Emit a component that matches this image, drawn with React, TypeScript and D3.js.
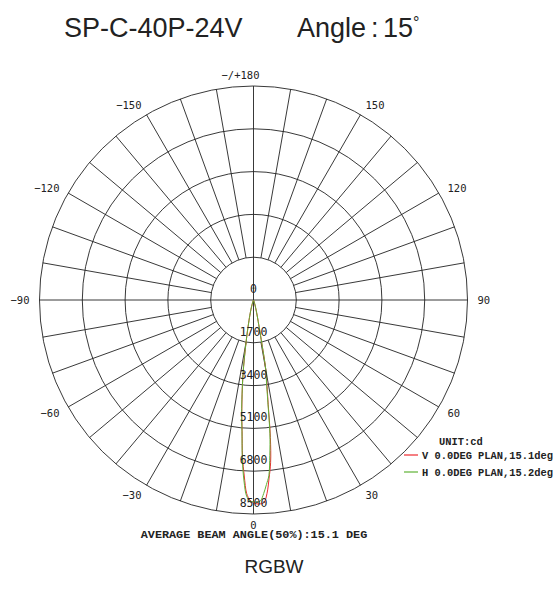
import { useEffect, useRef } from "react";
import * as d3 from "d3";

// beam angles in degrees (0 = straight down, + to the right)
const angles = [-30, -25, -20, -16, -14, -12, -10, -8, -6, -5, -4, -3, -2, -1, 0, 1, 2, 3, 4, 5, 6, 7, 8, 9, 10, 11, 12, 14, 16, 20, 25, 30];
// V plane (red), cd
const vPlane = [0, 20, 80, 280, 520, 950, 1700, 3000, 4450, 5200, 6250, 7000, 7700, 7950, 8050, 8100, 8100, 8050, 7700, 7100, 6500, 5500, 4200, 3400, 2800, 1600, 1000, 500, 250, 80, 20, 0];
// H plane (green), cd
const hPlane = [0, 20, 80, 300, 550, 900, 1700, 3000, 4500, 5250, 6350, 7200, 7800, 7980, 8020, 8030, 7980, 7700, 7350, 7000, 6200, 5350, 4100, 3300, 2800, 1600, 1000, 500, 250, 80, 20, 0];

const rings = [1700, 3400, 5100, 6800, 8500];
const ringLabels = [0, 1700, 3400, 5100, 6800, 8500];
const angleTicks = [0, 30, 60, 90, 120, 150, 180, -150, -120, -90, -60, -30];
const spokes = d3.range(-170, 190, 10);

const legend = [
  { name: "V 0.0DEG PLAN,15.1deg", color: "#ee2a2f", values: vPlane },
  { name: "H 0.0DEG PLAN,15.2deg", color: "#5fb236", values: hPlane },
];

const W = 553;
const H = 595;

export default function App() {
  const svgRef = useRef<SVGSVGElement | null>(null);

  useEffect(() => {
    const svg = d3.select(svgRef.current);
    svg.selectAll("*").remove();

    const cx = 253.5;
    const cy = 300;
    const r = d3.scaleLinear().domain([0, 8500]).range([0, 214]);
    const rad = (d: number) => (d * Math.PI) / 180;
    const px = (deg: number, v: number) => cx + v * Math.sin(rad(deg));
    const py = (deg: number, v: number) => cy + v * Math.cos(rad(deg));

    // title
    const title = svg.append("g").attr("fill", "#222").attr("font-family", "Liberation Sans, Arial, sans-serif");
    title.append("text").attr("x", 64).attr("y", 37).attr("font-size", 27).text("SP-C-40P-24V");
    title.append("text").attr("x", 297).attr("y", 37).attr("font-size", 27).text("Angle");
    title.append("text").attr("x", 371).attr("y", 37).attr("font-size", 27).text(":");
    title.append("text").attr("x", 383).attr("y", 37).attr("font-size", 27).text("15");
    title.append("text").attr("x", 413).attr("y", 28).attr("font-size", 16).text("°");

    const grid = svg.append("g").attr("stroke", "#222").attr("stroke-width", 0.9).attr("fill", "none");

    grid
      .selectAll("circle")
      .data(rings)
      .join("circle")
      .attr("cx", cx)
      .attr("cy", cy)
      .attr("r", (d) => r(d));

    grid
      .selectAll("line")
      .data(spokes)
      .join("line")
      .attr("x1", (d) => px(d, d % 90 === 0 ? 0 : r(rings[0])))
      .attr("y1", (d) => py(d, d % 90 === 0 ? 0 : r(rings[0])))
      .attr("x2", (d) => px(d, r(8500)))
      .attr("y2", (d) => py(d, r(8500)));

    // angle labels
    svg
      .append("g")
      .attr("font-family", "DejaVu Sans Mono, monospace")
      .attr("font-size", 10.5)
      .attr("fill", "#222")
      .selectAll("text")
      .data(angleTicks)
      .join("text")
      .attr("x", (d) => px(d, 224))
      .attr("y", (d) => py(d, 225))
      .attr("dx", (d) => (d === 180 ? -13 : 0))
      .attr("dominant-baseline", "central")
      .attr("text-anchor", (d) => (d === 0 || d === 180 ? "middle" : d > 0 ? "start" : "end"))
      .text((d) => (d === 180 ? "\u2212/+180" : d < 0 ? "\u2212" + Math.abs(d) : String(d)));

    // beam curves
    const line = d3
      .lineRadial<number>()
      .angle((_, i) => Math.PI - rad(angles[i]))
      .radius((d) => r(d))
      .curve(d3.curveCatmullRom.alpha(0.5));

    const beams = svg.append("g").attr("transform", `translate(${cx},${cy})`);
    legend.forEach((s) => {
      beams
        .append("path")
        .datum(s.values)
        .attr("d", line)
        .attr("fill", "none")
        .attr("stroke", s.color)
        .attr("stroke-width", 1);
    });

    // radial value labels
    svg
      .append("g")
      .attr("font-family", "DejaVu Sans Mono, monospace")
      .attr("font-size", 11.5)
      .attr("fill", "#222")
      .selectAll("text")
      .data(ringLabels)
      .join("text")
      .attr("x", cx)
      .attr("y", (d) => cy + r(d) - 11)
      .attr("text-anchor", "middle")
      .attr("dominant-baseline", "central")
      .text((d) => d);

    // legend
    const lg = svg
      .append("g")
      .attr("font-family", "Liberation Mono, Courier New, monospace")
      .attr("font-weight", "bold")
      .attr("font-size", 10.4)
      .attr("fill", "#222");
    lg.append("text").attr("x", 439).attr("y", 445).text("UNIT:cd");
    legend.forEach((s, i) => {
      const y = 455 + i * 17;
      lg.append("line")
        .attr("x1", 404)
        .attr("x2", 418)
        .attr("y1", y)
        .attr("y2", y)
        .attr("stroke", s.color)
        .attr("stroke-width", 1.2);
      lg.append("text").attr("x", 422).attr("y", y + 3.5).text(s.name);
    });

    svg
      .append("text")
      .attr("x", 254)
      .attr("y", 538)
      .attr("text-anchor", "middle")
      .attr("font-family", "Liberation Mono, Courier New, monospace")
      .attr("font-weight", "bold")
      .attr("font-size", 11.8)
      .attr("fill", "#222")
      .text("AVERAGE BEAM ANGLE(50%):15.1 DEG");

    svg
      .append("text")
      .attr("x", 274)
      .attr("y", 573)
      .attr("text-anchor", "middle")
      .attr("font-family", "Liberation Sans, Arial, sans-serif")
      .attr("font-size", 19)
      .attr("fill", "#222")
      .text("RGBW");
  }, []);

  return (
    <svg
      ref={svgRef}
      width={W}
      height={H}
      style={{ position: "absolute", left: 0, top: 0, background: "#fff" }}
    ></svg>
  );
}
